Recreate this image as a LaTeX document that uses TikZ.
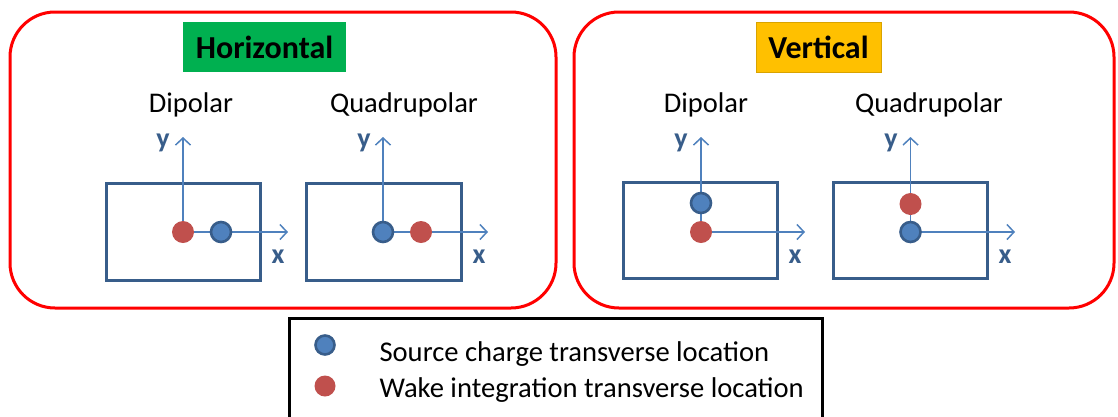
\documentclass[tikz,border=0pt]{standalone}
\usepackage{fontspec}
\setmainfont{Carlito}
\usetikzlibrary{arrows.meta}
\definecolor{frame}{HTML}{FF0000}
\definecolor{boxblue}{HTML}{385D8A}
\definecolor{axblue}{HTML}{4F81BD}
\definecolor{dotred}{HTML}{C0504D}
\definecolor{hgreen}{HTML}{00B050}
\definecolor{vorange}{HTML}{FFC000}
\tikzset{
  panel/.style={draw=frame, line width=3pt, rounded corners=45pt},
  chamber/.style={draw=boxblue, line width=3pt},
  axis/.style={draw=axblue, line width=1.5pt, -{Straight Barb[length=7pt,width=15pt,line width=1.5pt]}},
  src/.style={circle, draw=boxblue, fill=axblue, line width=2.6pt, minimum size=20pt, inner sep=0pt},
  wake/.style={circle, fill=dotred, minimum size=22pt, inner sep=0pt},
  axlabel/.style={text=boxblue, font=\fontsize{28}{28}\selectfont\bfseries},
  title/.style={font=\fontsize{28.5}{28.5}\selectfont, anchor=base},
  tag/.style={font=\fontsize{32}{32}\selectfont\bfseries, anchor=base},
  legtext/.style={font=\fontsize{28.6}{28.6}\selectfont, anchor=base west}
}
\begin{document}
\begin{tikzpicture}[x=1pt,y=-1pt]
\useasboundingbox (0,0) rectangle (1118,416);
% panels
\draw[panel] (10,12) rectangle (556,308);
\draw[panel] (574,12) rectangle (1114,308);
% tags
\fill[hgreen] (183,22) rectangle (346,72);
\node[tag] (htag) at (264.5,58) {Horizontal};
\filldraw[fill=vorange, draw=vorange!85!black, line width=0.8pt] (756,22) rectangle (881,72);
\node[tag] (vtag) at (818.5,58) {Vertical};
% titles
\node[title] (t1) at (191,112) {Dipolar};
\node[title] (t2) at (404,112) {Quadrupolar};
\node[title] (t3) at (706,112) {Dipolar};
\node[title] (t4) at (929,112) {Quadrupolar};
% chambers
\draw[chamber] (106,183) rectangle (260,280);
\draw[chamber] (306,183) rectangle (461,280);
\draw[chamber] (623,182) rectangle (777,278);
\draw[chamber] (833,182) rectangle (987,278);
% --- Horizontal dipolar
\coordinate (o1) at (183,232);
\coordinate (y1) at (183,137);
\coordinate (x1) at (288,232);
\draw[axis] (o1) -- (y1);
\draw[axis] (o1) -- (x1);
\node[wake] (w1) at (o1) {};
\node[src] (s1) at (221,232) {};
\node[axlabel] (ly1) at (163,143) {y};
\node[axlabel] (lx1) at (278,257) {x};
% --- Horizontal quadrupolar
\coordinate (o2) at (383,232);
\coordinate (y2) at (383,137);
\coordinate (x2) at (488,232);
\draw[axis] (o2) -- (y2);
\draw[axis] (o2) -- (x2);
\node[src] (s2) at (o2) {};
\node[wake] (w2) at (421,232) {};
\node[axlabel] (ly2) at (364,143) {y};
\node[axlabel] (lx2) at (479,257) {x};
% --- Vertical dipolar
\coordinate (o3) at (701,232);
\coordinate (y3) at (701,137);
\coordinate (x3) at (805,232);
\draw[axis] (o3) -- (y3);
\draw[axis] (o3) -- (x3);
\node[wake] (w3) at (o3) {};
\node[src] (s3) at (701,203) {};
\node[axlabel] (ly3) at (681,143) {y};
\node[axlabel] (lx3) at (795,257) {x};
% --- Vertical quadrupolar
\coordinate (o4) at (910.5,232);
\coordinate (y4) at (910.5,137);
\coordinate (x4) at (1015,232);
\draw[axis] (o4) -- (y4);
\draw[axis] (o4) -- (x4);
\node[src] (s4) at (o4) {};
\node[wake] (w4) at (910.5,204) {};
\node[axlabel] (ly4) at (891,143) {y};
\node[axlabel] (lx4) at (1005,257) {x};
% legend
\draw[black, line width=3pt] (289,430) -- (289,318) -- (822,318) -- (822,430);
\node[src, minimum size=19pt] (ls) at (325,345) {};
\node[wake, minimum size=21pt] (lw) at (325,386) {};
\node[legtext] (lt1) at (376,361) {Source charge transverse location};
\node[legtext] (lt2) at (376,397) {Wake integration transverse location};
\end{tikzpicture}
\end{document}
